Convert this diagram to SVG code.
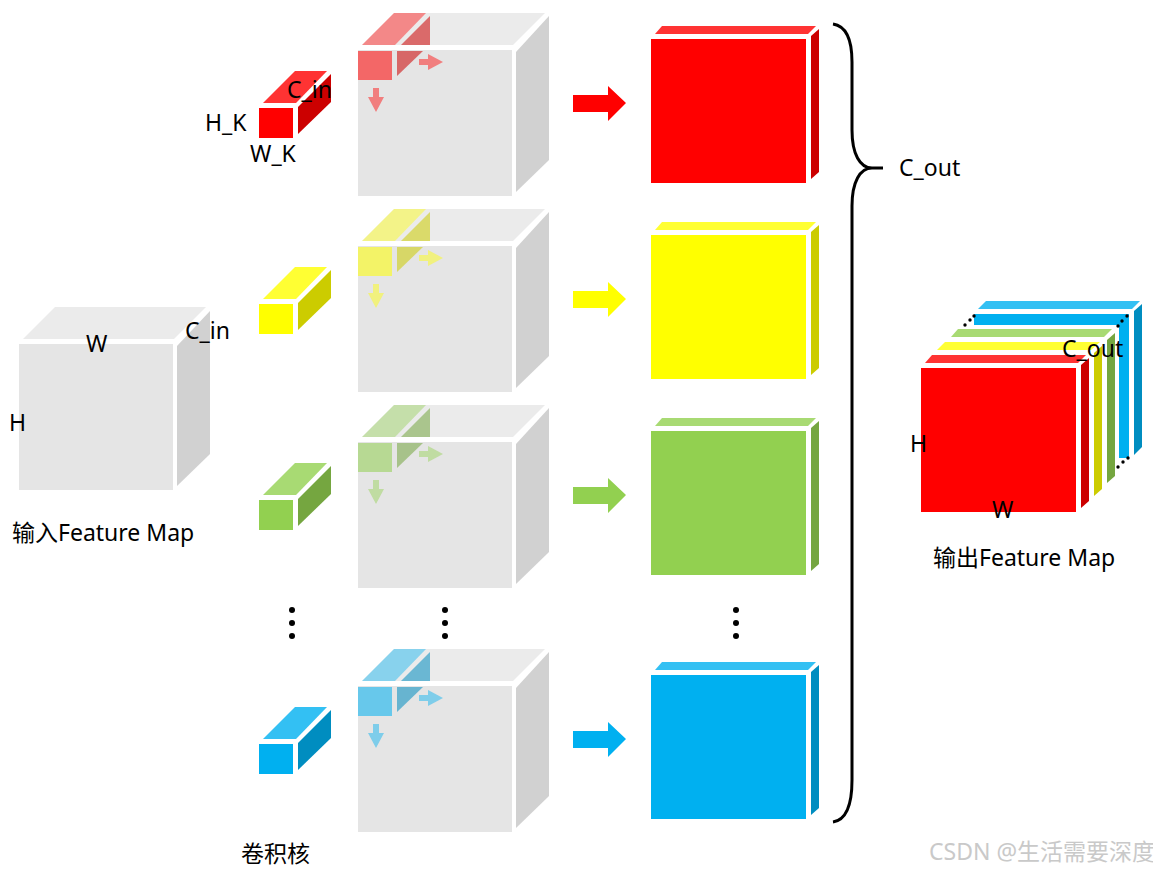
<svg xmlns="http://www.w3.org/2000/svg" xmlns:xlink="http://www.w3.org/1999/xlink" width="1153" height="872" viewBox="0 0 1153 872">
<style>
text{font-family:"Noto Sans","Noto Sans CJK SC",sans-serif;font-size:23px;fill:#000}
.wm{font-size:23px;fill:#c9c9c9}
.gf{fill:#e5e5e5}.gt{fill:#ebebeb}.gs{fill:#d1d1d1}
.dot{fill:#000}
</style>
<defs>
<g id="bigcube">
<rect class="gf" x="358" y="50" width="154" height="146"/>
<polygon class="gt" points="362,45 394,13 545,13 513,45"/>
<polygon class="gs" points="516,52 549,16 549,160 516,192"/>
</g>
<g id="overlay">
<rect x="358" y="51" width="34" height="29" fill="var(--c)" fill-opacity=".55"/>
<polygon points="362,45 394,13 426,13 395,45" fill="var(--c)" fill-opacity=".42"/>
<polygon points="397,51 423,51 397,76" fill="var(--d)" fill-opacity=".55"/>
<polygon points="401,45 430,16 430,45" fill="var(--d)" fill-opacity=".55"/>
<polygon points="419,59 428,59 428,54 443,62 428,70 428,65 419,65" fill="var(--c)" fill-opacity=".45"/>
<polygon points="373,88 379,88 379,97 384,97 376,112 368,97 373,97" fill="var(--c)" fill-opacity=".45"/>
</g>
<g id="kernel">
<rect x="259" y="108" width="34" height="30" fill="var(--c)"/>
<polygon points="263,103 295,71 327,71 296,103" fill="var(--t)"/>
<polygon points="298,107 331,74 331,102 298,134" fill="var(--d)"/>
</g>
<g id="result">
<rect x="651" y="39" width="155" height="144" fill="var(--c)"/>
<polygon points="655,34 662,26 816,26 808,34" fill="var(--t)"/>
<polygon points="811,36 819,29 819,172 811,179" fill="var(--d)"/>
</g>
<polygon id="arrow" points="573,95 608,95 608,86 626,103 608,121 608,112 573,112" fill="var(--c)"/>
<g id="vdots"><circle class="dot" cx="0" cy="610" r="3"/><circle class="dot" cx="0" cy="623" r="3"/><circle class="dot" cx="0" cy="636" r="3"/></g>
</defs>

<g id="input-cube">
<rect class="gf" x="19" y="344" width="154" height="146"/>
<polygon class="gt" points="23,339 55,307 206,307 174,339"/>
<polygon class="gs" points="177,346 210,311 210,454 177,486"/>
</g>

<g id="row-red" style="--c:#ff0000;--t:#ff3333;--d:#cc0000">
<use xlink:href="#bigcube"/><use xlink:href="#overlay"/><use xlink:href="#kernel"/><use xlink:href="#arrow"/><use xlink:href="#result"/>
</g>
<g id="row-yellow" transform="translate(0,196)" style="--c:#ffff00;--t:#ffff33;--d:#cccc00">
<use xlink:href="#bigcube"/><use xlink:href="#overlay"/><use xlink:href="#kernel"/><use xlink:href="#arrow"/><use xlink:href="#result"/>
</g>
<g id="row-green" transform="translate(0,392)" style="--c:#92d050;--t:#a8da73;--d:#75a640">
<use xlink:href="#bigcube"/><use xlink:href="#overlay"/><use xlink:href="#kernel"/><use xlink:href="#arrow"/><use xlink:href="#result"/>
</g>
<g id="row-blue" transform="translate(0,636)" style="--c:#00b0f0;--t:#33c0f3;--d:#008dc0">
<use xlink:href="#bigcube"/><use xlink:href="#overlay"/><use xlink:href="#kernel"/><use xlink:href="#arrow"/><use xlink:href="#result"/>
</g>

<g id="ellipses">
<use xlink:href="#vdots" x="292"/><use xlink:href="#vdots" x="445"/><use xlink:href="#vdots" x="736"/>
</g>

<g id="connectors">
<path d="M833,24 C846,26 852,38 852,62 L852,130 C852,154 860,168 872,168 L883,168 M872,168 C860,168 852,182 852,206 L852,780 C852,806 846,820 833,822" fill="none" stroke="#000" stroke-width="3"/>
</g>

<g id="output-stack">
<g id="out-blue">
<rect x="974" y="314" width="155" height="144" fill="#00b0f0"/>
<polygon points="978,309 986,301 1140,301 1132,309" fill="#33c0f3"/>
<polygon points="1134,311 1142,304 1142,447 1134,455" fill="#008dc0"/>
</g>
<polygon points="947,325 1119,325 1119,500 947,500" fill="#fff"/>
<g id="out-green">
<polygon points="951,337 958,329 1112,329 1104,337" fill="#a8da73"/>
<polygon points="1107,340 1115,333 1115,476 1107,483" fill="#75a640"/>
</g>
<polygon points="937,350 945,342 1100,342 1091,350" fill="#ffff33"/>
<polygon points="1094,353 1102,346 1102,489 1094,496" fill="#cccc00"/>
<polygon points="925,363 932,355 1086,355 1078,363" fill="#ff3333"/>
<polygon points="1081,365 1089,358 1089,501 1081,508" fill="#cc0000"/>
<rect x="921" y="368" width="155" height="144" fill="#ff0000"/>
<g id="out-dots">
<circle class="dot" cx="965" cy="325" r="1.7"/><circle class="dot" cx="970" cy="320" r="1.7"/><circle class="dot" cx="974" cy="316" r="1.7"/>
<circle class="dot" cx="1118" cy="326" r="1.7"/><circle class="dot" cx="1122" cy="321" r="1.7"/><circle class="dot" cx="1127" cy="316" r="1.7"/>
<circle class="dot" cx="1118" cy="467" r="1.7"/><circle class="dot" cx="1123" cy="462" r="1.7"/><circle class="dot" cx="1128" cy="458" r="1.7"/>
</g>
</g>

<g id="labels">
<text x="287" y="98">C_in</text>
<text x="205" y="131">H_K</text>
<text x="250" y="162">W_K</text>
<text x="86" y="352">W</text>
<text x="185" y="339">C_in</text>
<text x="9" y="431">H</text>
<text x="12" y="541">输入Feature Map</text>
<text x="241" y="862">卷积核</text>
<text x="899" y="176">C_out</text>
<text x="1062" y="357">C_out</text>
<text x="910" y="452">H</text>
<text x="992" y="518">W</text>
<text x="933" y="566">输出Feature Map</text>
<text class="wm" x="929" y="860">CSDN @生活需要深度</text>
</g>
</svg>
